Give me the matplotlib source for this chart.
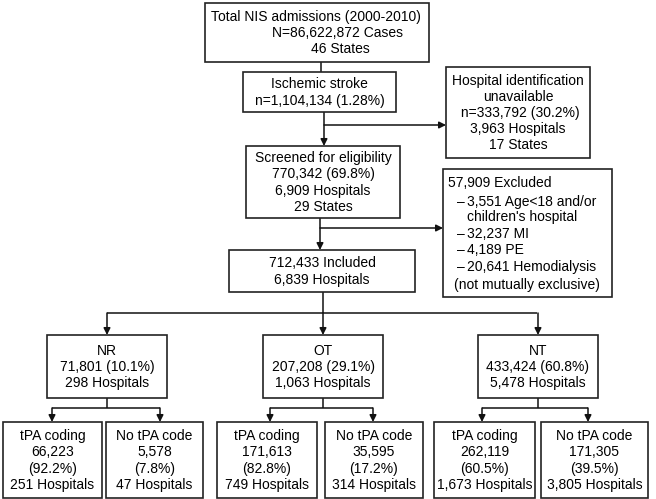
import matplotlib
matplotlib.use("Agg")
import matplotlib.pyplot as plt          # noqa: E402
from matplotlib.patches import Rectangle  # noqa: E402

plt.rcParams["font.family"] = ["Liberation Sans", "DejaVu Sans"]

# ---- numbers in the flow ----
total_cases, total_states = "86,622,872", 46
stroke_n, stroke_pct = "1,104,134", "1.28%"
noid_n, noid_pct, noid_hosp, noid_states = "333,792", "30.2%", "3,963", 17
screen_n, screen_pct, screen_hosp, screen_states = "770,342", "69.8%", "6,909", 29
excl_total = "57,909"
excl_reasons = ["3,551 Age<18 and/or\nchildren's hospital", "32,237 MI", "4,189 PE",
                "20,641 Hemodialysis"]
incl_n, incl_hosp = "712,433", "6,839"
arms = ["NR", "OT", "NT"]
arm_n = ["71,801", "207,208", "433,424"]
arm_pct = ["10.1%", "29.1%", "60.8%"]
arm_hosp = ["298", "1,063", "5,478"]
tpa_n = ["66,223", "171,613", "262,119"]
tpa_pct = ["92.2%", "82.8%", "60.5%"]
tpa_hosp = ["251", "749", "1,673"]
notpa_n = ["5,578", "35,595", "171,305"]
notpa_pct = ["7.8%", "17.2%", "39.5%"]
notpa_hosp = ["47", "314", "3,805"]

FS = 10
fig = plt.figure(figsize=(6.56, 4.99), dpi=100)
ax = fig.add_axes([0, 0, 1, 1])
ax.set_xlim(0, 656); ax.set_ylim(499, 0); ax.axis("off")
ARROW = dict(arrowstyle="-|>", color="#111", lw=1.1, mutation_scale=10, shrinkA=0, shrinkB=0)


def box(x0, y0, x1, y1, text=None, ls=1.2):
    ax.add_patch(Rectangle((x0, y0), x1 - x0, y1 - y0, fc="white", ec="#222", lw=1.2, zorder=2))
    if text:
        ax.text((x0 + x1) / 2, (y0 + y1) / 2 + 0.5, text, ha="center", va="center",
                fontsize=FS, linespacing=ls, zorder=3)


def line(xs, ys):
    ax.plot(xs, ys, color="#111", lw=1.1, zorder=1, solid_capstyle="butt")


def arrow(x0, y0, x1, y1):
    ax.annotate("", xy=(x1, y1), xytext=(x0, y0), zorder=1, arrowprops=ARROW)


# top of the chart
box(205, 3, 429, 62)
ax.text(316, 17, "Total NIS admissions (2000-2010)", ha="center", va="center", fontsize=FS)
ax.text(338, 32.5, f"N={total_cases} Cases", ha="center", va="center", fontsize=FS)
ax.text(340, 48.5, f"{total_states} States", ha="center", va="center", fontsize=FS)
line([321, 321], [62, 72])
box(243, 72, 396, 112, f"Ischemic stroke\nn={stroke_n} ({stroke_pct})")
box(446, 67, 590, 158, f"Hospital identification\nunavailable\n n={noid_n} ({noid_pct})\n"
    f"{noid_hosp} Hospitals\n{noid_states} States", ls=1.18)
arrow(324, 112, 324, 146)
arrow(324, 125, 446, 125)

box(246, 146, 400, 218, f"Screened for eligibility\n{screen_n} ({screen_pct})\n"
    f"{screen_hosp} Hospitals\n{screen_states} States", ls=1.2)
arrow(320, 218, 320, 250)
arrow(320, 228, 443, 228)

# exclusions box, left aligned
box(443, 169, 612, 297)
ax.text(448, 183, f"{excl_total} Excluded", ha="left", va="center", fontsize=FS)
yy = 202
for r in excl_reasons:
    parts = r.split("\n")
    ax.text(457, yy, "–", ha="left", va="center", fontsize=FS)
    ax.text(467, yy, parts[0], ha="left", va="center", fontsize=FS)
    for p in parts[1:]:
        yy += 15.5
        ax.text(467, yy, p, ha="left", va="center", fontsize=FS)
    yy += 16.5
ax.text(527, 285, "(not mutually exclusive)", ha="center", va="center", fontsize=FS)

box(229, 250, 415, 292, f"{incl_n} Included\n{incl_hosp} Hospitals")

# three arms
arm_x = [(47, 167), (263, 383), (478, 598)]
line([323, 323], [292, 313])
line([107, 537], [313, 313])
for (x0, x1), name, n, p, h in zip(arm_x, arms, arm_n, arm_pct, arm_hosp):
    cx = (x0 + x1) / 2
    arrow(cx, 313, cx, 335)
    box(x0, 335, x1, 398, f"{name}\n{n} ({p})\n{h} Hospitals")

# tPA split
sub_x = [((3, 102), (106, 203)), ((217, 317), (325, 423)), ((434, 535), (541, 648))]
sub_arrow = [(52, 160), (270, 373), (482, 588)]
for i, (x0, x1) in enumerate(arm_x):
    cx = (x0 + x1) / 2
    line([cx, cx], [398, 408])
    line([sub_arrow[i][0], sub_arrow[i][1]], [408, 408])
    for xa in sub_arrow[i]:
        arrow(xa, 408, xa, 422)
    (a0, a1), (b0, b1) = sub_x[i]
    box(a0, 422, a1, 498, f"tPA coding\n{tpa_n[i]}\n({tpa_pct[i]})\n{tpa_hosp[i]} Hospitals",
        ls=1.22)
    box(b0, 422, b1, 498, f"No tPA code\n{notpa_n[i]}\n({notpa_pct[i]})\n{notpa_hosp[i]} Hospitals",
        ls=1.22)

fig.savefig("out.png", dpi=100)
